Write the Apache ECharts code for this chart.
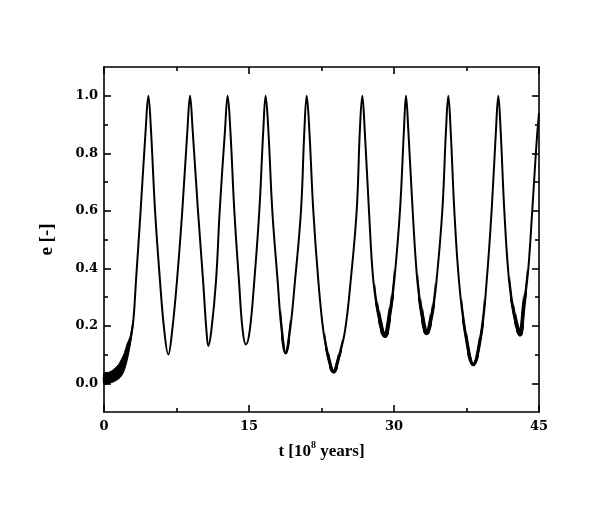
<!DOCTYPE html>
<html>
<head>
<meta charset="utf-8">
<script src="https://cdn.jsdelivr.net/npm/echarts@6/dist/echarts.min.js"></script>
<style>html,body{margin:0;padding:0;background:#fff}#c{width:602px;height:506px}</style>
</head>
<body>
<div id="c"></div>
<script>
// time in 10^8 years
const tVals = [
  0, 0.5, 1.0, 1.5, 1.8, 2.1, 2.4, 2.7, 3.03, 3.31, 3.79, 4.31, 4.59, 4.86, 5.28, 5.79, 6.24, 6.65,
  7.05, 7.55, 8.1, 8.63, 8.90, 9.17, 9.72, 10.25, 10.6, 10.79,
  11.1, 11.59, 11.97, 12.52, 12.79, 13.07, 13.48, 13.96, 14.35, 14.69,
  15.07, 15.55, 16.07, 16.48, 16.72, 17.0, 17.41, 17.96, 18.38, 18.79,
  19.24, 19.76, 20.38, 20.73, 20.97, 21.24, 21.65, 22.17, 22.69, 23.2, 23.75,
  24.3, 24.93, 25.52, 26.14, 26.47, 26.72, 26.97, 27.41, 27.86, 28.38, 29.07,
  29.59, 30.03, 30.62, 31.03, 31.24, 31.48, 31.93, 32.41, 32.86, 33.38,
  33.95, 34.4, 35.0, 35.38, 35.62, 35.86, 36.24, 36.72, 37.34, 38.2,
  39.07, 39.59, 40.1, 40.55, 40.79, 41.03, 41.41, 41.9, 42.41, 43.03,
  43.5, 43.9, 44.3, 44.6, 44.8, 45.0
];
// eccentricity
const eVals = [
  0.016, 0.019, 0.027, 0.04, 0.054, 0.075, 0.109, 0.146, 0.217, 0.357, 0.601, 0.881, 1.0, 0.881, 0.601, 0.357, 0.182, 0.10,
  0.182, 0.357, 0.601, 0.881, 1.0, 0.881, 0.601, 0.357, 0.182, 0.13,
  0.182, 0.357, 0.601, 0.881, 1.0, 0.881, 0.601, 0.357, 0.182, 0.135,
  0.182, 0.357, 0.601, 0.881, 1.0, 0.881, 0.601, 0.357, 0.182, 0.105,
  0.182, 0.357, 0.601, 0.881, 1.0, 0.881, 0.601, 0.357, 0.182, 0.09, 0.04,
  0.09, 0.182, 0.357, 0.601, 0.881, 1.0, 0.881, 0.601, 0.357, 0.24, 0.165,
  0.24, 0.357, 0.601, 0.881, 1.0, 0.881, 0.601, 0.357, 0.24, 0.175,
  0.24, 0.357, 0.601, 0.881, 1.0, 0.881, 0.601, 0.357, 0.182, 0.065,
  0.182, 0.357, 0.601, 0.881, 1.0, 0.881, 0.601, 0.357, 0.24, 0.17,
  0.28, 0.40, 0.60, 0.76, 0.86, 0.94
];
// early fast-oscillation envelope
const bandT  = [0, 0.5, 1.0, 1.5, 1.8, 2.1, 2.4, 2.7, 3.0];
const bandLo = [-0.004, 0.0, 0.005, 0.015, 0.025, 0.045, 0.08, 0.13, 0.2];
const bandHi = [0.036, 0.038, 0.048, 0.065, 0.083, 0.105, 0.138, 0.162, 0.215];
// stretches around minima where the fast oscillation thickens the curve
const thickOuter = [[18.3, 19.2], [22.9, 24.6], [28.0, 30.0], [32.5, 34.2], [37.0, 39.3], [42.0, 43.8]];
const thickMid   = [[23.3, 24.2], [28.3, 29.7], [32.8, 33.9], [37.6, 38.8], [42.4, 43.5]];
const thickInner = [[28.6, 29.45], [33.0, 33.7], [42.6, 43.35]];
// tick labels
const xTicks = [0, 15, 30, 45];
const yLabelVals = [0.0, 0.2, 0.4, 0.6, 0.8, 1.0];
const yMinorVals = [0.1, 0.3, 0.5, 0.7, 0.9];

const FONT = 'Liberation Serif';
const TICKFONT = 'DejaVu Serif';
const mainData = tVals.map((t, i) => [t, eVals[i]]);

const series = [
  {
    type: 'line', data: mainData, showSymbol: false, smooth: 0.4,
    lineStyle: { color: '#000', width: 2 }, z: 3
  },
  {
    type: 'custom', coordinateSystem: 'cartesian2d', z: 4,
    data: bandT.map((t, i) => [t, bandLo[i], bandHi[i]]),
    encode: { x: 0, y: [1, 2] },
    renderItem: function (params, api) {
      if (params.dataIndex !== 0) return null;
      const pts = [];
      for (let i = 0; i < bandT.length; i++) pts.push(api.coord([bandT[i], bandHi[i]]));
      for (let i = bandT.length - 1; i >= 0; i--) pts.push(api.coord([bandT[i], bandLo[i]]));
      return { type: 'polygon', shape: { points: pts, smooth: 0.3 }, style: { fill: '#000', stroke: '#000', lineWidth: 1 } };
    }
  }
];
const thickSets = [[thickOuter, 2.8], [thickMid, 3.6], [thickInner, 4.6]];
const visualMaps = [];
thickSets.forEach(([ranges, w]) => {
  const idx = series.length;
  series.push({
    type: 'line', showSymbol: false, smooth: 0.4, data: mainData,
    lineStyle: { width: w }, z: 4 + idx
  });
  visualMaps.push({
    type: 'piecewise', show: false, dimension: 0, seriesIndex: idx,
    pieces: ranges.map(r => ({ gte: r[0], lte: r[1], color: '#000' })),
    outOfRange: { color: 'rgba(0,0,0,0)' }
  });
});

const axisLineStyle = { show: true, onZero: false, lineStyle: { color: '#000', width: 1.6 } };
const tickStyle = { color: '#000', width: 1.6 };
const chart = echarts.init(document.getElementById('c'), null, { renderer: 'canvas' });
chart.setOption({
  backgroundColor: '#fff',
  animation: false,
  visualMap: visualMaps,
  grid: { left: 104, top: 67, width: 435, height: 345, containLabel: false },
  xAxis: [
    {
      type: 'value', position: 'bottom', min: 0, max: 45, interval: 15,
      axisLine: axisLineStyle,
      axisTick: { inside: true, length: 7, lineStyle: tickStyle },
      minorTick: { show: true, splitNumber: 2, length: 4, lineStyle: tickStyle },
      splitLine: { show: false }, minorSplitLine: { show: false },
      axisLabel: { color: '#000', fontFamily: TICKFONT, fontWeight: 'bold', fontSize: 13, margin: 8,
        customValues: xTicks, formatter: v => String(v) },
      name: '{a|t [10}{s|8}{a| years]}', nameLocation: 'middle', nameGap: 30,
      nameTextStyle: { rich: {
        a: { fontFamily: FONT, fontWeight: 'bold', fontSize: 17, color: '#000', lineHeight: 20 },
        s: { fontFamily: FONT, fontWeight: 'bold', fontSize: 10, color: '#000', lineHeight: 20, padding: [0, 0, 14, 0] }
      } }
    },
    {
      type: 'value', position: 'top', min: 0, max: 45, interval: 15,
      axisLine: axisLineStyle,
      axisTick: { inside: true, length: 7, lineStyle: tickStyle },
      minorTick: { show: true, splitNumber: 2, length: 4, lineStyle: tickStyle },
      splitLine: { show: false }, axisLabel: { show: false }
    }
  ],
  yAxis: [
    {
      type: 'value', position: 'left', min: -0.1, max: 1.1,
      axisLine: axisLineStyle,
      axisTick: { inside: true, length: 7, customValues: yLabelVals, lineStyle: tickStyle },
      axisLabel: { customValues: yLabelVals, formatter: v => v.toFixed(1), color: '#000',
        fontFamily: TICKFONT, fontWeight: 'bold', fontSize: 13, margin: 6 },
      splitLine: { show: false },
      name: 'e [-]', nameLocation: 'middle', nameGap: 47,
      nameTextStyle: { fontFamily: FONT, fontWeight: 'bold', fontSize: 19, color: '#000' }
    },
    {
      type: 'value', position: 'left', min: -0.1, max: 1.1,
      axisLine: { show: false, onZero: false },
      axisTick: { inside: true, length: 4, customValues: yMinorVals, lineStyle: tickStyle },
      axisLabel: { show: false }, splitLine: { show: false }
    },
    {
      type: 'value', position: 'right', min: -0.1, max: 1.1,
      axisLine: axisLineStyle,
      axisTick: { inside: true, length: 7, customValues: yLabelVals, lineStyle: tickStyle },
      axisLabel: { show: false }, splitLine: { show: false }
    },
    {
      type: 'value', position: 'right', min: -0.1, max: 1.1,
      axisLine: { show: false, onZero: false },
      axisTick: { inside: true, length: 4, customValues: yMinorVals, lineStyle: tickStyle },
      axisLabel: { show: false }, splitLine: { show: false }
    }
  ],
  series: series
});
</script>
</body>
</html>
